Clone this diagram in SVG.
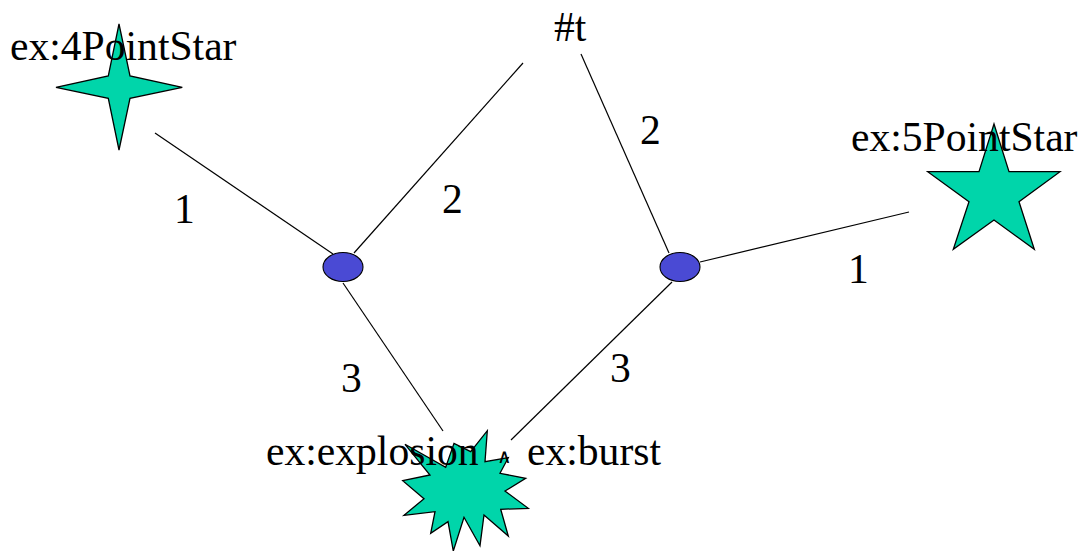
<svg xmlns="http://www.w3.org/2000/svg" width="1087" height="551" viewBox="0 0 1087 551">
<style>
.s{fill:#00d5aa;stroke:#000;stroke-width:1.3;stroke-linejoin:miter}
.b{fill:#4a4ad4;stroke:#000;stroke-width:1.1}
.c line{stroke:#000;stroke-width:1.2}
text{font-family:"Liberation Serif","Times New Roman",serif;font-size:41.6px;fill:#000}
.w{font-family:"DejaVu Sans",sans-serif;font-size:20px}
</style>
<rect width="1087" height="551" fill="#fff"/>
<g class="c" id="connectors">
<line x1="155" y1="133" x2="333" y2="254"/>
<line x1="523" y1="63" x2="354" y2="253"/>
<line x1="581" y1="54" x2="669" y2="253"/>
<line x1="700" y1="262" x2="909" y2="212"/>
<line x1="343" y1="283" x2="443" y2="431"/>
<line x1="672" y1="282" x2="511" y2="440"/>
</g>
<g id="n4star">
<polygon class="s" points="119,24 130,76 182.3,87.3 130,98.3 119,150 108.3,98.3 56,87.3 108.3,76"/>
<text x="10" y="60">ex:4PointStar</text>
</g>
<g id="nt"><text x="554" y="41">#t</text></g>
<g id="n5star">
<polygon class="s" points="994,124 1009,171.7 1060,171.7 1019,201.7 1034.3,249.3 994,220 953.3,249.3 969,201.7 927.7,171.7 979,171.7"/>
<text x="851" y="151">ex:5PointStar</text>
</g>
<g id="bnode1"><ellipse class="b" cx="343" cy="267" rx="20" ry="14.5"/></g>
<g id="bnode2"><ellipse class="b" cx="680" cy="267" rx="20" ry="14.5"/></g>
<g id="nburst">
<polygon class="s" points="405,444.3 445.7,467.3 454,443.3 470.7,451.7 487.3,430.7 485,461.7 508.3,457.7 500,473.3 525.7,478.3 505,491 528.3,508.3 500.7,509.3 508.3,536 484,515 480,545.7 464,517.3 453.3,551 448,521.7 430.7,533.3 435,511.7 404,515.3 424,498.7 402.7,480.7 430,475"/>
<text x="266" y="465">ex:explosion</text>
<text class="w" x="497" y="463">∧</text>
<text x="527" y="465">ex:burst</text>
</g>
<g id="labels">
<text x="174" y="223">1</text>
<text x="442" y="213">2</text>
<text x="341" y="392">3</text>
<text x="640" y="144">2</text>
<text x="848" y="283">1</text>
<text x="610" y="382">3</text>
</g>
</svg>
